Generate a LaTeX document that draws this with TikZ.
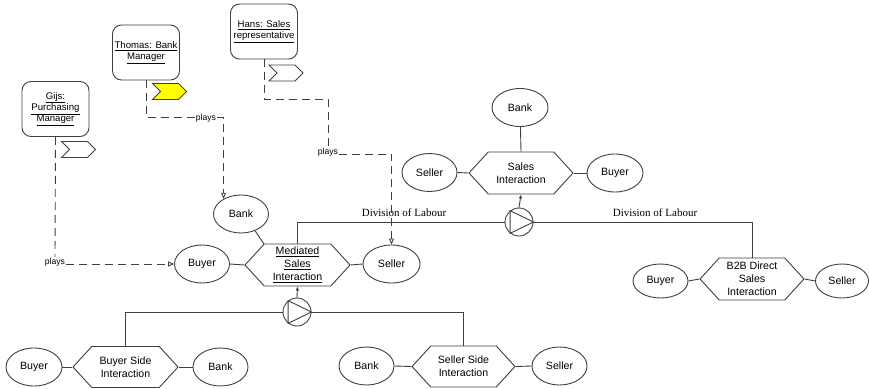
\documentclass[tikz,border=0pt]{standalone}
\usepackage{fontspec}
\setmainfont{Liberation Sans}
\newfontfamily\serifx{Liberation Serif}
\usetikzlibrary{shapes.geometric,shapes.symbols,arrows.meta}
\definecolor{lc}{HTML}{404040}
\definecolor{flagy}{HTML}{FFFF00}
\begin{document}
\begin{tikzpicture}[x=1pt,y=-1pt,line width=0.9pt,
  role/.style={draw=lc, rounded corners=9pt, minimum width=67pt, minimum height=55pt, align=center,
    font=\fontsize{9.6}{11.2}\selectfont, inner sep=1pt},
  ell/.style={draw=lc, ellipse, minimum width=56pt, minimum height=38pt,
    font=\fontsize{10.6}{12}\selectfont, inner sep=0pt},
  hexa/.style={draw=lc, shape=signal, signal to=west and east, signal pointer angle=95,
    minimum width=104pt, minimum height=42pt, align=center,
    font=\fontsize{10.6}{12.8}\selectfont, inner sep=0pt},
  flagbox/.style={draw=lc, shape=signal, signal from=west, signal to=east,
    minimum width=34pt, minimum height=16pt, inner sep=0pt},
  playc/.style={draw=lc, circle, minimum size=28pt, inner sep=0pt},
  playslbl/.style={font=\fontsize{8.6}{9}\selectfont, inner sep=0.5pt, anchor=base},
  dol/.style={font=\serifx\fontsize{11}{12}\selectfont, inner sep=0pt},
  dline/.style={draw=lc, dash pattern=on 8pt off 5pt},
  darrow/.style={dline, -{Triangle[open,length=6pt,width=5pt]}},
  conn/.style={draw=lc},
  uparrow/.style={draw=lc, -{Latex[length=4pt,width=3.5pt]}}
]
\useasboundingbox (0,0) rectangle (869,388);
\fill[white] (0,0) rectangle (869,388);

% role boxes
\node[role] (gijs) at (55.5,109) {\underline{Gijs:}\\\underline{Purchasing}\\\underline{Manager}};
\node[role] (thomas) at (146,52.5) {\underline{Thomas: Bank}\\\underline{Manager}};
\node[role] (hans) at (264,31.5) {\underline{Hans: Sales}\\\underline{representative}};

% flags
\node[flagbox] (fg) at (78.5,149.5) {};
\node[flagbox, fill=flagy] (ft) at (169.5,91.5) {};
\node[flagbox] (fh) at (286,73) {};

% mediated sales interaction
\node[hexa, minimum width=105pt] (mhex) at (297.5,265) {\underline{Mediated}\\\underline{Sales}\\\underline{Interaction}};
\node[ell, minimum width=55pt] (bank1) at (241,214) {Bank};
\node[ell, minimum width=55pt] (mbuyer) at (202,264) {Buyer};
\node[ell, minimum width=57pt] (mseller) at (391.5,264) {Seller};

% sales interaction
\node[hexa] (shex) at (521,173) {Sales\\Interaction};
\node[ell] (tbank) at (520,107.5) {Bank};
\node[ell, minimum width=55pt] (tseller) at (429.5,172.5) {Seller};
\node[ell] (tbuyer) at (615,173) {Buyer};

% B2B
\node[hexa] (b2b) at (752,279) {B2B Direct\\Sales\\Interaction};
\node[ell, minimum width=55pt, minimum height=34pt] (bbuyer) at (660.5,281) {Buyer};
\node[ell, minimum width=53pt, minimum height=34pt] (bseller) at (842,281) {Seller};

% lower
\node[hexa, minimum width=105pt, minimum height=41pt] (bshex) at (125.5,367) {Buyer Side\\Interaction};
\node[ell] (lbuyer) at (34,367) {Buyer};
\node[ell, minimum width=55pt] (lbank) at (220.5,367) {Bank};
\node[hexa, minimum width=103pt, minimum height=41pt] (sshex) at (463.5,366.5) {Seller Side\\Interaction};
\node[ell, minimum width=55pt] (rbank) at (366.5,366) {Bank};
\node[ell, minimum width=55pt] (rseller) at (559.5,366) {Seller};

% play circles
\node[playc] (c1) at (519,222) {};
\node[playc] (c2) at (297,312) {};
\draw[conn] (c1.128) -- (c1.232) -- (c1.0) -- cycle;
\draw[conn] (c2.128) -- (c2.232) -- (c2.0) -- cycle;

% division of labour labels
\node[dol] (dl1) at (404,213) {Division of Labour};
\node[dol] (dl2) at (655,213) {Division of Labour};

% plays labels
\node[playslbl] (p1) at (55,264) {plays};
\node[playslbl] (p2) at (206,120) {plays};
\node[playslbl] (p3) at (328,154) {plays};

% solid connectors
\draw[conn] (bank1.-50) -- (mhex.north west);
\draw[conn] (mbuyer.east) -- (mhex.west);
\draw[conn] (mhex.east) -- (mseller.west);
\draw[conn] (tbank) -- (shex.north);
\draw[conn] (tseller.east) -- (shex.west);
\draw[conn] (shex.east) -- (tbuyer.west);
\draw[conn] (bbuyer.east) -- (b2b.west);
\draw[conn] (b2b.east) -- (bseller.west);
\draw[conn] (lbuyer.east) -- (bshex.west);
\draw[conn] (bshex.east) -- (lbank.west);
\draw[conn] (rbank.east) -- (sshex.west);
\draw[conn] (sshex.east) -- (rseller.west);

\draw[conn] (mhex.north) |- (c1.west);
\draw[conn] (c1.east) -| (b2b.north);
\draw[uparrow] (c1.north) -- (shex.south);
\draw[conn] (c2.west) -| (bshex.north);
\draw[conn] (c2.east) -| (sshex.north);
\draw[uparrow] (c2.north) -- (mhex.south);

% plays connectors
\draw[dline] (gijs.south) -- (p1.north);
\draw[darrow] (p1.base east) -- (p1.base east -| mbuyer.west);
\draw[dline] (thomas.south) |- (p2.west);
\draw[darrow] (p2.east) -| (bank1.139);
\draw[dline] (hans.south) -- ++(0,40) -| (p3.north);
\draw[darrow] (p3.base east) -| (mseller.north);
\end{tikzpicture}
\end{document}
